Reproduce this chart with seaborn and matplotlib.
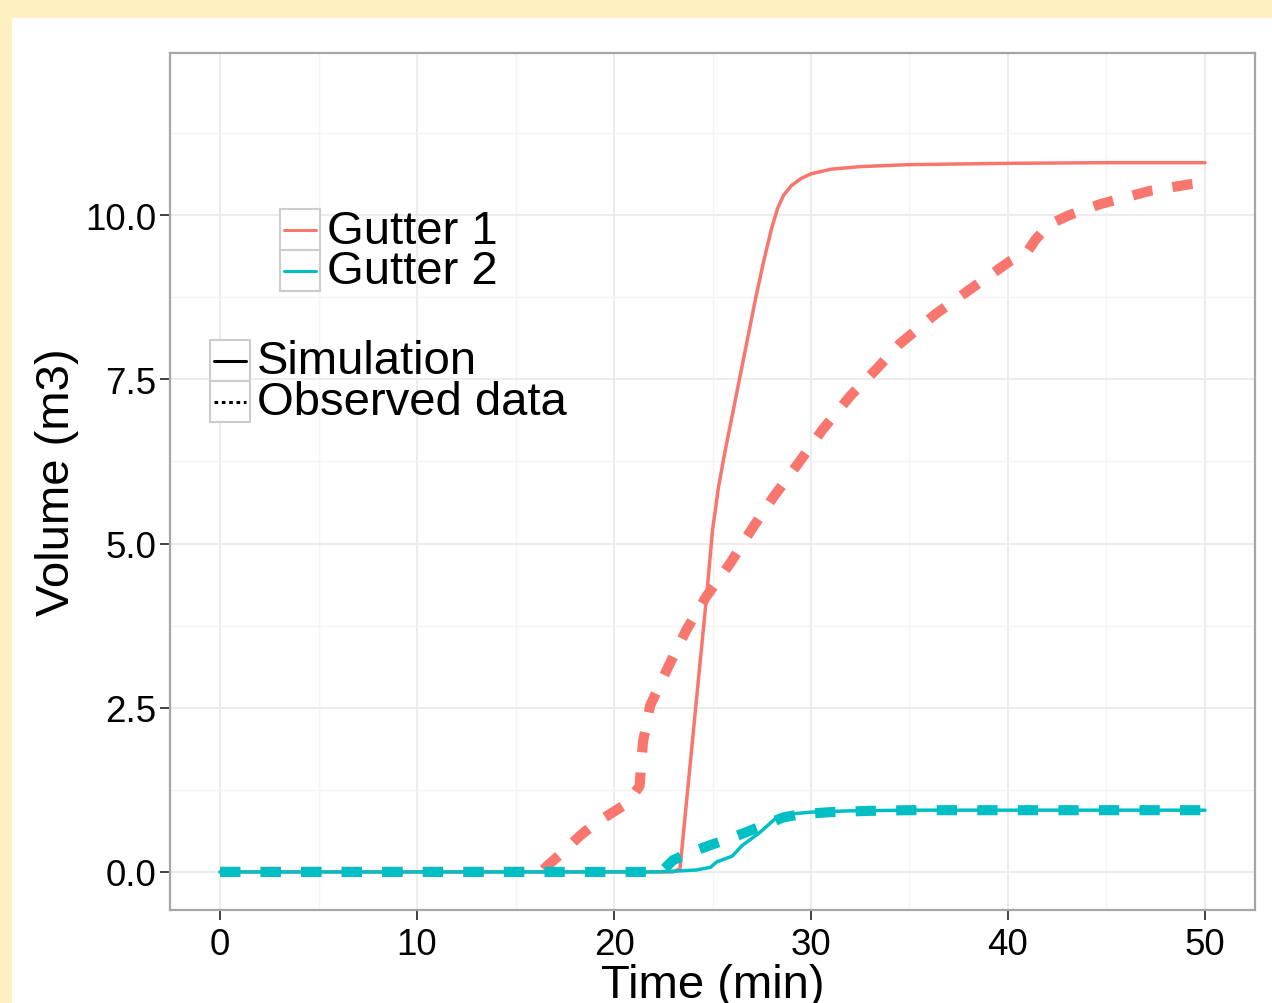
import pandas as pd
import seaborn as sns
import matplotlib.pyplot as plt
from matplotlib.lines import Line2D
from matplotlib.patches import Rectangle

# values (time in min, volume in m3)
g1_sim_t = [0, 5, 10, 15, 20, 22, 23.0, 23.35, 24.0, 24.7, 25.0, 25.3, 25.6, 26.0, 26.4,
            26.8, 27.2, 27.6, 28.0, 28.3, 28.6, 29.0, 29.5, 30.0, 31.0, 32.5, 35, 40, 45, 50]
g1_sim_v = [0, 0, 0, 0, 0, 0, 0, 0.05, 2.05, 4.2, 5.2, 5.85, 6.35, 6.95, 7.55,
            8.15, 8.75, 9.3, 9.8, 10.1, 10.3, 10.45, 10.56, 10.63, 10.7, 10.74, 10.77,
            10.79, 10.8, 10.8]

g1_obs_t = [0, 5, 10, 15, 16.3, 16.6, 17.4, 18.27, 19.1, 19.95, 20.7, 21.3, 21.47, 21.57,
            21.83, 22.7, 23.7, 24.7, 25.9, 27.06, 28.07, 29.4, 30.6, 32.0, 33.3, 34.5,
            36.3, 38.07, 40.1, 41.0, 41.4, 42.1, 43.1, 44.7, 47.2, 49.2, 50]
g1_obs_v = [0, 0, 0, 0, 0, 0.09, 0.3, 0.55, 0.75, 0.91, 1.05, 1.31, 1.98, 2.13,
            2.53, 3.09, 3.70, 4.2, 4.7, 5.25, 5.7, 6.24, 6.74, 7.25, 7.65, 8.04,
            8.49, 8.87, 9.3, 9.45, 9.63, 9.86, 10.0, 10.17, 10.37, 10.47, 10.5]

g2_sim_t = [0, 5, 10, 15, 20, 22, 23, 24.2, 24.9, 25.2, 26.0, 26.5, 27.4, 28.3, 28.9,
            30, 32, 35, 40, 50]
g2_sim_v = [0, 0, 0, 0, 0, 0, 0.01, 0.03, 0.07, 0.15, 0.24, 0.4, 0.6, 0.84, 0.88,
            0.91, 0.93, 0.94, 0.94, 0.94]

g2_obs_t = [0, 5, 10, 15, 20, 22.4, 23.0, 24.0, 25.0, 26.0, 27.0, 28.0, 28.6, 29.5,
            31, 33, 35, 40, 45, 50]
g2_obs_v = [0, 0, 0, 0, 0, 0, 0.18, 0.31, 0.42, 0.52, 0.64, 0.76, 0.83, 0.88,
            0.91, 0.93, 0.94, 0.94, 0.94, 0.94]

gutters = ["Gutter 1", "Gutter 2"]
sources = ["Simulation", "Observed data"]
colors = {"Gutter 1": "#F8766D", "Gutter 2": "#00BFC4"}

series = [
    ("Gutter 1", "Simulation", g1_sim_t, g1_sim_v),
    ("Gutter 1", "Observed data", g1_obs_t, g1_obs_v),
    ("Gutter 2", "Simulation", g2_sim_t, g2_sim_v),
    ("Gutter 2", "Observed data", g2_obs_t, g2_obs_v),
]

sns.set_theme(style="white")
plt.rcParams["font.family"] = ["Liberation Sans", "DejaVu Sans"]

W, H = 1272, 1004
fig = plt.figure(figsize=(W / 100, H / 100), dpi=100, facecolor="#FFF0C2")
fig.patches.append(Rectangle((12 / W, 0), 1 - 12 / W, 1 - 19 / H, transform=fig.transFigure,
                             facecolor="white", edgecolor="none", zorder=-10))
ax = fig.add_axes([170 / W, 1 - 911 / H, (1255 - 170) / W, (911 - 54) / H])

for gutter, source, t, v in series:
    df = pd.DataFrame({"time": t, "volume": v})
    if source == "Simulation":
        sns.lineplot(data=df, x="time", y="volume", color=colors[gutter], lw=2.5,
                     estimator=None, ax=ax)
    else:
        sns.lineplot(data=df, x="time", y="volume", color=colors[gutter], lw=7.3,
                     linestyle=(0, (2, 2)), dash_capstyle="butt", estimator=None, ax=ax)

ax.set_xlim(-2.54, 52.54)
ax.set_ylim(-0.58, 12.47)
ax.set_xticks([0, 10, 20, 30, 40, 50])
ax.set_xticks([5, 15, 25, 35, 45], minor=True)
ax.set_yticks([0, 2.5, 5, 7.5, 10])
ax.set_yticklabels(["0.0", "2.5", "5.0", "7.5", "10.0"])
ax.set_yticks([1.25, 3.75, 6.25, 8.75, 11.25], minor=True)
ax.grid(which="major", color="#EBEBEB", lw=1.3)
ax.grid(which="minor", color="#F4F4F4", lw=1.0)
ax.set_axisbelow(True)
for s in ax.spines.values():
    s.set_color("#A6A6A6")
    s.set_linewidth(1.6)
ax.tick_params(which="major", direction="out", length=7, width=1.3, color="#333333",
               labelsize=26.5, labelcolor="black", bottom=True, left=True)
ax.tick_params(axis="x", pad=5)
ax.tick_params(axis="y", pad=3)
ax.tick_params(which="minor", length=0)
ax.set_xlabel("Time (min)", fontsize=34, labelpad=1, color="black")
ax.set_ylabel("Volume (m3)", fontsize=34, labelpad=4, color="black")


def fx(x):
    return x / W


def fy(y):
    return 1 - y / H


def legend_block(x0, y0, rows, key_w=40, key_h=41):
    for i, (label, color, ls) in enumerate(rows):
        top = y0 + i * key_h
        fig.patches.append(Rectangle((fx(x0), fy(top + key_h)), key_w / W, key_h / H,
                                     transform=fig.transFigure, facecolor="white",
                                     edgecolor="#CCCCCC", lw=1.5))
        yc = top + key_h / 2
        fig.add_artist(Line2D([fx(x0 + 4), fx(x0 + key_w - 4)], [fy(yc), fy(yc)],
                              transform=fig.transFigure, color=color, lw=2.2, ls=ls))
        fig.text(fx(x0 + key_w + 7), fy(yc + 1), label, fontsize=34, va="center",
                 ha="left", color="black")


legend_block(280, 210, [(g, colors[g], "-") for g in gutters])
legend_block(210, 341, [("Simulation", "black", "-"), ("Observed data", "black", (0, (1.2, 1.2)))])

fig.savefig("out.png", dpi=100, facecolor=fig.get_facecolor())
